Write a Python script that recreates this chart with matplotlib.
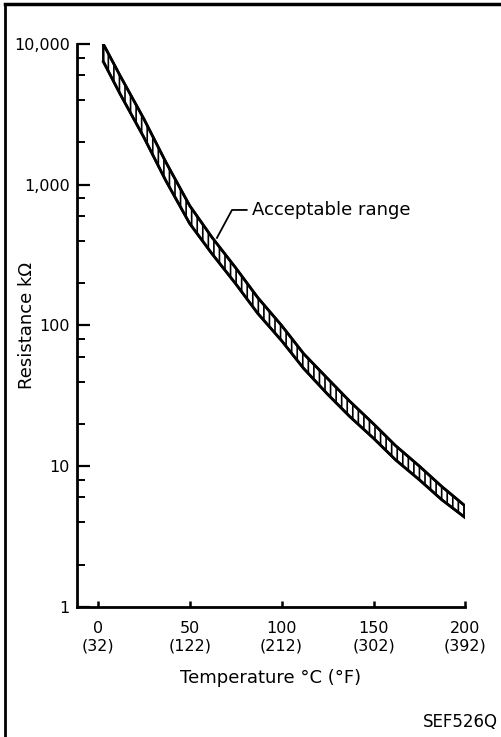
import matplotlib.pyplot as plt
from matplotlib.lines import Line2D
from matplotlib.ticker import FixedLocator, NullFormatter

# acceptable resistance band (kOhm)
temps = [3, 12, 25, 37, 50, 62, 75, 87, 100, 112, 125, 137, 150, 162, 175, 187, 200]
upper = [10000, 6000, 2950, 1450, 710, 425, 257, 158, 100, 63, 42, 29, 20, 14, 10, 7.2, 5.2]
lower = [7500, 4450, 2180, 1070, 530, 325, 198, 122, 78, 49.5, 32.5, 22.6, 15.8, 11.1, 8.0, 5.8, 4.3]

x_ticks = [0, 50, 100, 150, 200]
x_labels = ['0\n(32)', '50\n(122)', '100\n(212)', '150\n(302)', '200\n(392)']
y_ticks = [1, 10, 100, 1000, 10000]
y_labels = ['1', '10', '100', '1,000', '10,000']
y_minor = [m * 10 ** d for d in range(4) for m in (2, 4, 6, 8)]

plt.rcParams['hatch.linewidth'] = 1.2

fig = plt.figure(figsize=(5.01, 7.37), dpi=100)
ax = fig.add_axes([0.153, 0.1764, 0.776, 0.7639])

ax.fill_between(temps, lower, upper, facecolor='white', edgecolor='black',
                hatch='|||', linewidth=1.8)
ax.plot(temps, upper, color='black', linewidth=2)
ax.plot(temps, lower, color='black', linewidth=2)

ax.set_yscale('log')
ax.set_xlim(-11.5, 200)
ax.set_ylim(1, 10000)

ax.yaxis.set_major_locator(FixedLocator(y_ticks))
ax.set_yticklabels(y_labels)
ax.yaxis.set_minor_locator(FixedLocator(y_minor))
ax.yaxis.set_minor_formatter(NullFormatter())
ax.set_xticks(x_ticks)
ax.set_xticklabels(x_labels, linespacing=1.25)

ax.tick_params(axis='y', which='major', direction='in', length=9.5, width=1.6,
               labelsize=11.5, pad=5)
ax.tick_params(axis='y', which='minor', direction='in', length=6, width=1.4)
ax.tick_params(axis='x', which='major', direction='in', length=4, width=1.8,
               labelsize=11.5, pad=10)

for side in ('top', 'right'):
    ax.spines[side].set_visible(False)
for side in ('left', 'bottom'):
    ax.spines[side].set_linewidth(2)

ax.set_xlabel('Temperature °C (°F)', fontsize=13, labelpad=11)
ax.set_ylabel('Resistance kΩ', fontsize=13)
ax.yaxis.set_label_coords(-0.105, 0.5)

# leader line to the band label
ax.plot([64.8, 73, 81], [419, 662, 662], color='black', linewidth=1.3)
ax.text(84, 662, 'Acceptable range', fontsize=13, va='center', ha='left')

fig.text(0.993, 0.021, 'SEF526Q', fontsize=12, ha='right', va='center')

# page frame (left and top edges of the scanned sheet)
fig.add_artist(Line2D([0.01, 0.01], [0, 0.994], color='black', linewidth=2,
                      transform=fig.transFigure))
fig.add_artist(Line2D([0.01, 1], [0.994, 0.994], color='black', linewidth=2.5,
                      transform=fig.transFigure))

fig.savefig('out.png', dpi=100)
